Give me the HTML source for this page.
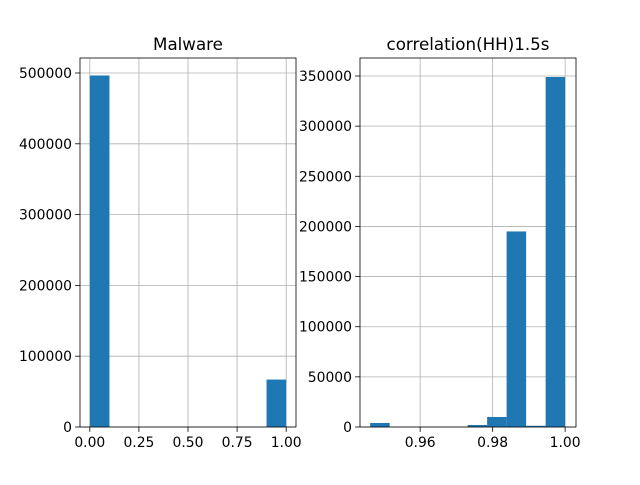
<!DOCTYPE html>
<html><head><meta charset="utf-8"><style>
body{margin:0;background:#fff;font-family:"Liberation Sans","DejaVu Sans",sans-serif;}
svg text{font-family:"DejaVu Sans","Liberation Sans",sans-serif;}
</style></head><body>
<svg id="c" width="640" height="480"></svg>
<script>
const malwareEdges=[0,0.1,0.2,0.3,0.4,0.5,0.6,0.7,0.8,0.9,1.0];
const malwareCounts=[496500,0,0,0,0,0,0,0,0,67000];
const malwareXTicks=[0,0.25,0.5,0.75,1.0];
const malwareXLabels=["0.00","0.25","0.50","0.75","1.00"];
const malwareYTicks=[0,100000,200000,300000,400000,500000];
const corrEdges=[0.9462,0.95158,0.95696,0.96234,0.96772,0.9731,0.97848,0.98386,0.98924,0.99462,1.0];
const corrCounts=[4000,0,0,0,0,2000,10000,195000,1200,349000];
const corrXTicks=[0.96,0.98,1.0];
const corrXLabels=["0.96","0.98","1.00"];
const corrYTicks=[0,50000,100000,150000,200000,250000,300000,350000];
const NS="http://www.w3.org/2000/svg";
const svg=document.getElementById('c');
function el(t,a,p){const e=document.createElementNS(NS,t);for(const k in a)e.setAttribute(k,a[k]);(p||svg).appendChild(e);return e;}
function panel(name,title,L,R,xmin,xmax,ymax,edges,counts,xt,xl,yt){
  const T=58,B=427;
  const g=el('g',{});
  
  
  const sx=v=>L+(v-xmin)/(xmax-xmin)*(R-L);
  const sy=v=>B-v/ymax*(B-T);
  xt.forEach((v,i)=>{
    const l=el('line',{x1:sx(v),x2:sx(v),y1:T,y2:B,stroke:'#b0b0b0','stroke-width':0.8},g);
    
    
    el('line',{x1:sx(v),x2:sx(v),y1:B,y2:B+4.9,stroke:'#000','stroke-width':0.8},g);
    const t=el('text',{x:sx(v),y:B+20,'font-size':13.9,'text-anchor':'middle'},g);
    t.textContent=xl[i];
    
    
  });
  yt.forEach(v=>{
    const l=el('line',{x1:L,x2:R,y1:sy(v),y2:sy(v),stroke:'#b0b0b0','stroke-width':0.8},g);
    
    
    el('line',{x1:L-4.9,x2:L,y1:sy(v),y2:sy(v),stroke:'#000','stroke-width':0.8},g);
    const t=el('text',{x:L-8,y:sy(v)+5,'font-size':13.9,'text-anchor':'end'},g);
    t.textContent=String(v);
    
    
  });
  counts.forEach((c,i)=>{
    if(c<=0)return;
    const r=el('rect',{x:sx(edges[i]),y:sy(c),width:sx(edges[i+1])-sx(edges[i]),height:B-sy(c),fill:'#1f77b4'},g);
    
    
  });
  el('rect',{x:L,y:T,width:R-L,height:B-T,fill:'none',stroke:'#000','stroke-width':0.8},g);
  const t=el('text',{x:(L+R)/2,y:T-8,'font-size':16.7,'text-anchor':'middle'},g);
  t.textContent=title;
  
  
}
panel('malware','Malware',80,296,-0.05,1.05,521186,malwareEdges,malwareCounts,malwareXTicks,malwareXLabels,malwareYTicks);
panel('correlation','correlation(HH)1.5s',360,576,0.9434,1.003,367950,corrEdges,corrCounts,corrXTicks,corrXLabels,corrYTicks);
</script>
</body></html>
